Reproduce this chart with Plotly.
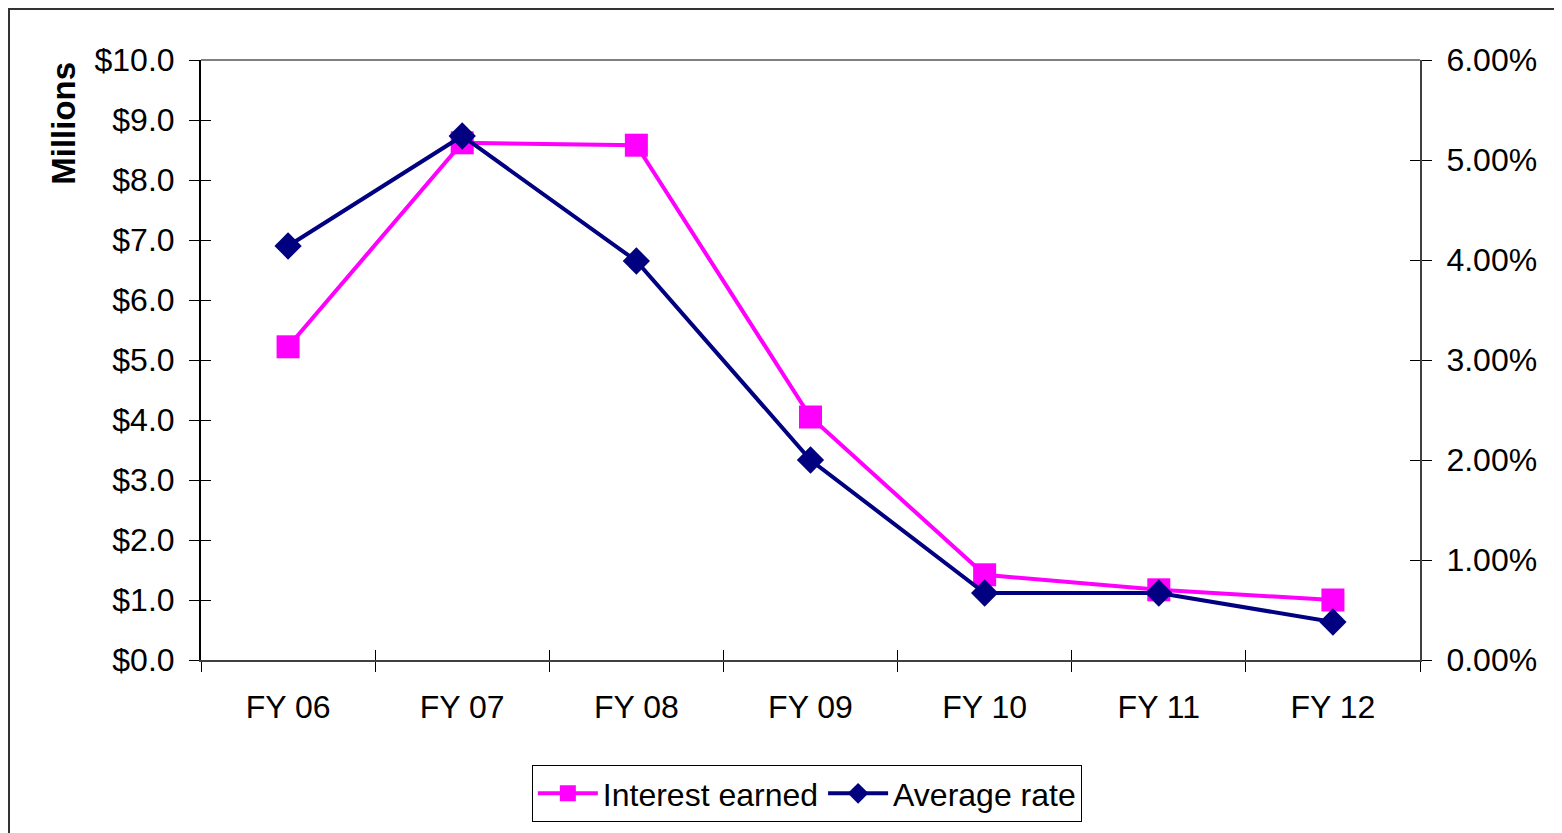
import plotly.graph_objects as go

years = ['FY 06', 'FY 07', 'FY 08', 'FY 09', 'FY 10', 'FY 11', 'FY 12']
interest_earned = [5.22, 8.62, 8.58, 4.05, 1.42, 1.17, 1.0]
average_rate = [0.0414, 0.0524, 0.0399, 0.0200, 0.0067, 0.0067, 0.0038]

font_family = 'Liberation Sans, Arial, sans-serif'

fig = go.Figure()
fig.add_trace(go.Scatter(
    x=years, y=interest_earned, name='Interest earned', mode='lines+markers',
    line=dict(color='#FF00FF', width=4),
    marker=dict(symbol='square', size=23, color='#FF00FF'),
    yaxis='y'))
fig.add_trace(go.Scatter(
    x=years, y=average_rate, name='Average rate', mode='lines+markers',
    line=dict(color='#000080', width=4),
    marker=dict(symbol='diamond', size=21, color='#000080'),
    yaxis='y2'))

# page body adds an 8px offset, so margins are shifted by that amount
fig.update_layout(
    width=1562, height=833,
    margin=dict(l=193, r=150, t=52, b=181),
    paper_bgcolor='white', plot_bgcolor='white',
    font=dict(family=font_family, size=32, color='black'),
    showlegend=True,
    legend=dict(orientation='h', x=0.497, xanchor='center', y=-0.175, yanchor='top',
                bordercolor='black', borderwidth=1, bgcolor='white',
                font=dict(size=32), itemwidth=60, tracegroupgap=0),
    xaxis=dict(type='category', range=[-0.5, 6.5], showgrid=False, zeroline=False,
               showline=True, linecolor='#404040', linewidth=2,
               tickson='boundaries', ticks='outside', ticklen=10, tickcolor='black',
               ticklabelstandoff=18),
    xaxis2=dict(overlaying='x', anchor='y', side='bottom', range=[-0.5, 6.5],
                tickvals=[-0.5, 0.5, 1.5, 2.5, 3.5, 4.5, 5.5, 6.5],
                showticklabels=False, ticks='inside', ticklen=10, tickcolor='black',
                showgrid=False, zeroline=False, showline=False),
    yaxis=dict(range=[0, 10], dtick=1, tickformat='$.1f', showgrid=False, zeroline=False,
               showline=True, linecolor='black', linewidth=2,
               ticks='outside', ticklen=10, tickcolor='black', ticklabelstandoff=8),
    yaxis2=dict(range=[0, 0.06], dtick=0.01, tickformat='.2%', overlaying='y', side='right',
                showgrid=False, zeroline=False, showline=True, linecolor='#404040', linewidth=2,
                ticks='outside', ticklen=10, tickcolor='black', ticklabelstandoff=8),
    # overlay axes that only add the inner half of the crossing tick marks
    yaxis3=dict(range=[0, 10], dtick=1, overlaying='y', side='left', anchor='x',
                showticklabels=False, ticks='inside', ticklen=10, tickcolor='black',
                showgrid=False, zeroline=False, showline=False),
    yaxis4=dict(range=[0, 0.06], dtick=0.01, overlaying='y', side='right', anchor='x',
                showticklabels=False, ticks='inside', ticklen=10, tickcolor='black',
                showgrid=False, zeroline=False, showline=False),
)

fig.add_trace(go.Scatter(x=[None], y=[None], xaxis='x2', yaxis='y3', showlegend=False, hoverinfo='skip'))
fig.add_trace(go.Scatter(x=[None], y=[None], xaxis='x', yaxis='y4', showlegend=False, hoverinfo='skip'))

fig.add_annotation(text='<b>Millions</b>', textangle=-90, xref='paper', yref='paper',
                   x=-0.1126, y=0.895, xanchor='center', yanchor='middle', showarrow=False,
                   font=dict(size=33, family=font_family, color='black'))

# plot area top edge and outer chart border
fig.add_shape(type='line', xref='paper', yref='paper', x0=0, x1=1, y0=1, y1=1,
              line=dict(color='#808080', width=2))
fig.add_shape(type='rect', xref='paper', yref='paper', x0=-0.1575, x1=1.2, y0=-0.4, y1=1.085,
              line=dict(color='#333333', width=2), layer='below')

fig.write_html('out.html')
